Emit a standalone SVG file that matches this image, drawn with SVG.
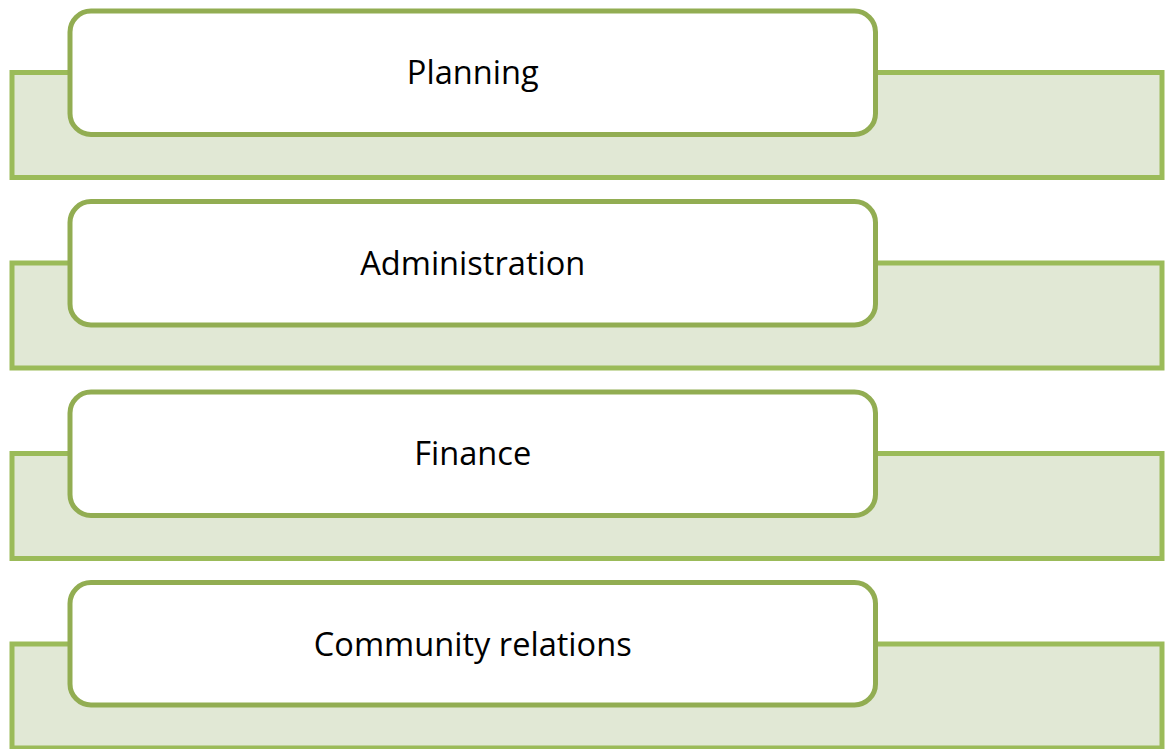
<svg xmlns="http://www.w3.org/2000/svg" width="1165" height="749" viewBox="0 0 1165 749">
  <style>
    .back { fill: #E1E8D5; stroke: #9BBB59; stroke-width: 5; }
    .front { fill: #FFFFFF; stroke: #92AD52; stroke-width: 5; }
    .label { font-family: "Open Sans", "Liberation Sans", sans-serif; font-size: 32.6px; fill: #000000; text-anchor: middle; }
  </style>
  <rect width="1165" height="749" fill="#FFFFFF"/>
  <g id="node-planning">
    <rect class="back" x="12" y="72.5" width="1150" height="105"/>
    <rect class="front" x="70" y="11" width="805.5" height="123.5" rx="21" ry="21"/>
    <text class="label" x="472.75" y="84">Planning</text>
  </g>
  <g id="node-administration">
    <rect class="back" x="12" y="263" width="1150" height="105"/>
    <rect class="front" x="70" y="201.5" width="805.5" height="123.5" rx="21" ry="21"/>
    <text class="label" x="472.75" y="274.5">Administration</text>
  </g>
  <g id="node-finance">
    <rect class="back" x="12" y="453.5" width="1150" height="105"/>
    <rect class="front" x="70" y="392" width="805.5" height="123.5" rx="21" ry="21"/>
    <text class="label" x="472.75" y="465">Finance</text>
  </g>
  <g id="node-community-relations">
    <rect class="back" x="12" y="644" width="1150" height="104"/>
    <rect class="front" x="70" y="582.5" width="805.5" height="122.5" rx="21" ry="21"/>
    <text class="label" x="472.75" y="655.5">Community relations</text>
  </g>
  <g id="connectors"></g>
</svg>
